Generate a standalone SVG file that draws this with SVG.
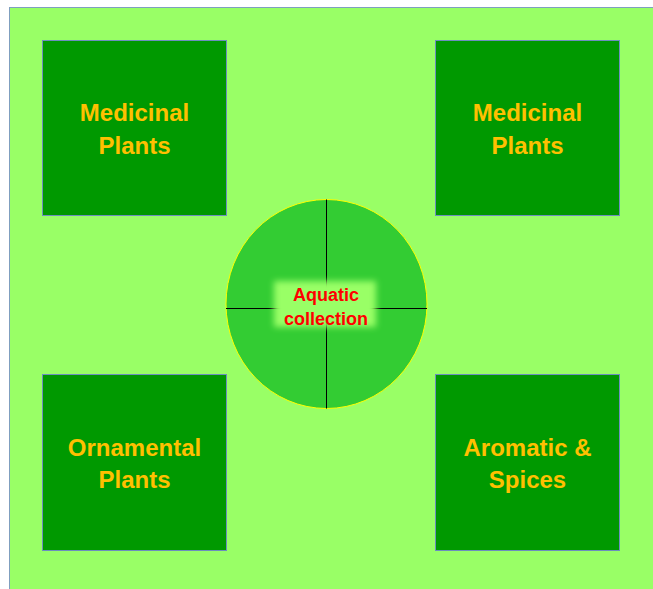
<svg xmlns="http://www.w3.org/2000/svg" width="653" height="589" viewBox="0 0 653 589">
<defs>
<style>
.bed{fill:#009900;stroke:#6c8ebf;stroke-width:1}
.lbl{font-family:"Liberation Sans",Arial,sans-serif;font-weight:bold;font-size:24px;fill:#ffc000;text-anchor:middle}
.aq{font-family:"Liberation Sans",Arial,sans-serif;font-weight:bold;font-size:18px;fill:#ff0000;text-anchor:middle}
</style>
<filter id="glow" x="-30%" y="-30%" width="160%" height="160%"><feGaussianBlur stdDeviation="3"/></filter>
</defs>
<rect x="0" y="0" width="653" height="589" fill="#ffffff"/>
<rect id="garden" x="9.5" y="7.5" width="660" height="600" fill="#99ff66" stroke="#7f9fbf" stroke-width="1"/>
<g id="bed-top-left"><rect class="bed" x="42.5" y="40.5" width="184" height="175"/><text class="lbl" x="134.5" y="121">Medicinal</text><text class="lbl" x="134.5" y="154">Plants</text></g>
<g id="bed-top-right"><rect class="bed" x="435.5" y="40.5" width="184" height="175"/><text class="lbl" x="527.5" y="121">Medicinal</text><text class="lbl" x="527.5" y="154">Plants</text></g>
<g id="bed-bottom-left"><rect class="bed" x="42.5" y="374.5" width="184" height="176"/><text class="lbl" x="134.5" y="456">Ornamental</text><text class="lbl" x="134.5" y="488">Plants</text></g>
<g id="bed-bottom-right"><rect class="bed" x="435.5" y="374.5" width="184" height="176"/><text class="lbl" x="527.5" y="456">Aromatic &amp;</text><text class="lbl" x="527.5" y="488">Spices</text></g>
<g id="pond">
<ellipse cx="326.5" cy="304" rx="100.5" ry="104.5" fill="#33cc33" stroke="#ffff00" stroke-width="1"/>
</g>
<g id="connectors" stroke="#000000" stroke-width="1">
<line x1="326.5" y1="199.5" x2="326.5" y2="408.5"/>
<line x1="226" y1="308.5" x2="427" y2="308.5"/>
</g>
<g id="pond-label">
<rect x="274" y="281" width="102" height="46" fill="#99ff66" filter="url(#glow)"/>
<text class="aq" x="326" y="300.5">Aquatic</text>
<text class="aq" x="326" y="324.5">collection</text>
</g>
</svg>
